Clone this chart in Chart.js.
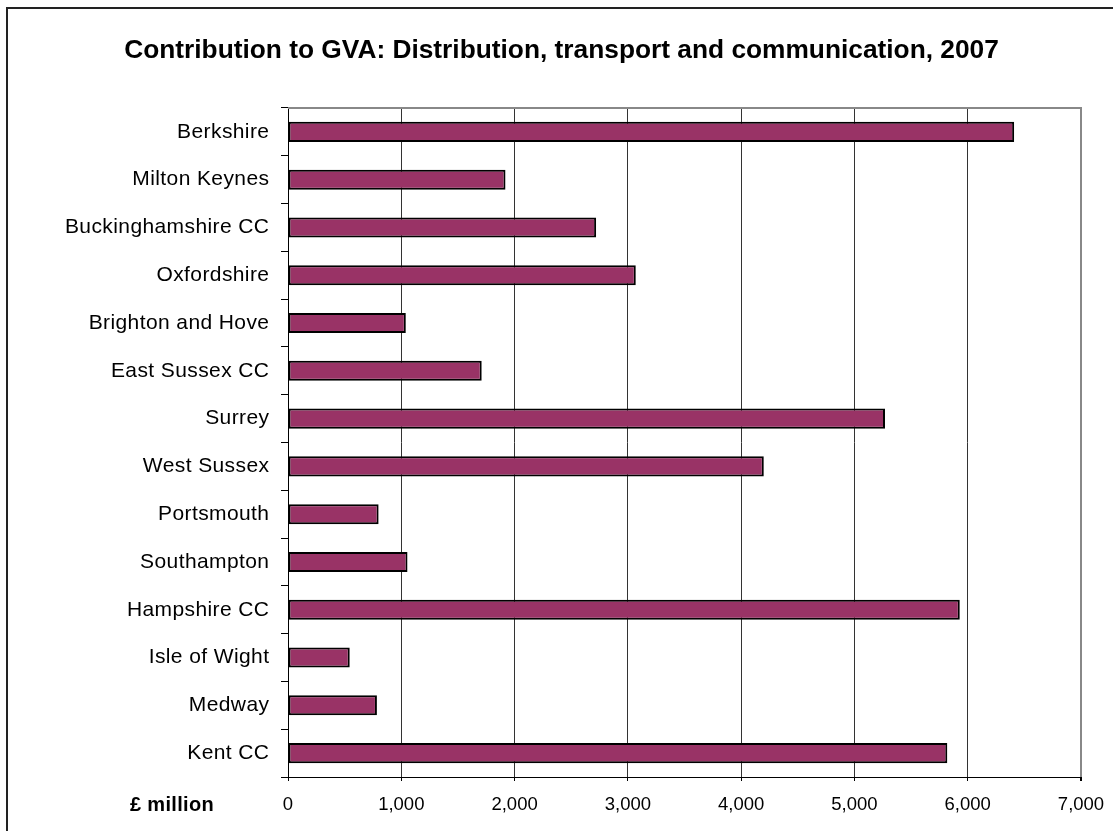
<!DOCTYPE html>
<html>
<head>
<meta charset="utf-8">
<title>Contribution to GVA: Distribution, transport and communication, 2007</title>
<script src="https://cdn.jsdelivr.net/npm/chart.js@4/dist/chart.umd.min.js"></script>
<style>
  html, body { margin: 0; padding: 0; background: #ffffff; }
  #wrap { position: relative; width: 1113px; height: 831px; }
</style>
</head>
<body>
<div id="wrap"><canvas id="gva" width="1113" height="831"></canvas></div>
<script>
// Areas of the South East, top to bottom
const areas = [
  'Berkshire', 'Milton Keynes', 'Buckinghamshire CC', 'Oxfordshire',
  'Brighton and Hove', 'East Sussex CC', 'Surrey', 'West Sussex',
  'Portsmouth', 'Southampton', 'Hampshire CC', 'Isle of Wight',
  'Medway', 'Kent CC'
];

// Gross value added, £ million
const gvaValues = [
  6410, 1920, 2720, 3070,
  1040, 1710, 5270, 4200,
  800, 1055, 5930, 545,
  785, 5820
];

// Horizontal axis range and step
const axisMin = 0;
const axisMax = 7000;
const axisStep = 1000;

const chartTitle = 'Contribution to GVA: Distribution, transport and communication, 2007';
const unitLabel = '£ million';

const FONT = '"Liberation Sans", Arial, Helvetica, sans-serif';

// Frame, title, category labels and unit label drawn around the plot
const framePlugin = {
  id: 'frame',
  beforeDraw(chart) {
    const ctx = chart.ctx;
    ctx.save();
    ctx.fillStyle = '#ffffff';
    ctx.fillRect(0, 0, chart.width, chart.height);
    ctx.strokeStyle = '#222222';
    ctx.lineWidth = 2;
    ctx.beginPath();
    ctx.moveTo(7, chart.height + 5);
    ctx.lineTo(7, 8);
    ctx.lineTo(chart.width + 5, 8);
    ctx.stroke();
    ctx.restore();
  },
  afterDatasetsDraw(chart) {
    const { ctx, chartArea } = chart;
    ctx.save();
    ctx.strokeStyle = '#888888';
    ctx.lineWidth = 2;
    ctx.beginPath();
    ctx.moveTo(chartArea.left, chartArea.top);
    ctx.lineTo(chartArea.right, chartArea.top);
    ctx.lineTo(chartArea.right, chartArea.bottom);
    ctx.stroke();
    ctx.restore();
  },
  afterDraw(chart) {
    const ctx = chart.ctx;
    const xScale = chart.scales.x;
    const yScale = chart.scales.y;
    ctx.save();
    ctx.fillStyle = '#000000';

    // title
    ctx.font = 'bold 26.3px ' + FONT;
    ctx.textAlign = 'center';
    ctx.textBaseline = 'alphabetic';
    ctx.fillText(chartTitle, 561.5, 58);

    // category labels
    const spacing = 0.4;
    ctx.font = '21px ' + FONT;
    ctx.letterSpacing = spacing + 'px';
    ctx.textAlign = 'right';
    ctx.textBaseline = 'middle';
    const labelRight = yScale.right - 7 - 12 + spacing;
    areas.forEach((name, i) => {
      ctx.fillText(name, labelRight, yScale.getPixelForTick(i));
    });

    // unit label under the category axis
    ctx.font = 'bold 20px ' + FONT;
    ctx.letterSpacing = '0.3px';
    ctx.textAlign = 'center';
    ctx.fillText(unitLabel, 172, xScale.top + 4 + 13 + 11);
    ctx.restore();
  }
};

new Chart(document.getElementById('gva'), {
  type: 'bar',
  data: {
    labels: areas,
    datasets: [{
      label: unitLabel,
      data: gvaValues,
      backgroundColor: '#993366',
      borderColor: '#000000',
      borderWidth: 2,
      borderSkipped: false,
      categoryPercentage: 1.0,
      barPercentage: 0.42
    }]
  },
  options: {
    indexAxis: 'y',
    responsive: false,
    animation: false,
    devicePixelRatio: 1,
    layout: { padding: { left: 0, right: 32, top: 108, bottom: 0 } },
    plugins: {
      legend: { display: false },
      tooltip: { enabled: false },
      title: { display: false }
    },
    scales: {
      x: {
        type: 'linear',
        position: 'bottom',
        min: axisMin,
        max: axisMax,
        afterFit(scale) {
          scale.height = 54;
          scale.paddingLeft = 0;
          scale.paddingRight = 0;
        },
        ticks: {
          stepSize: axisStep,
          color: '#000000',
          padding: 13,
          font: { family: FONT, size: 18.5 },
          callback: (v) => Number(v).toLocaleString('en-GB')
        },
        grid: {
          color: (c) => (c.index === 7 ? '#888888' : '#333333'),
          lineWidth: (c) => (c.index === 7 ? 2 : 1),
          tickLength: 4,
          tickColor: '#000000'
        },
        border: { display: true, color: '#000000', width: 1 }
      },
      y: {
        type: 'category',
        position: 'left',
        afterFit(scale) { scale.width = 288; },
        ticks: { display: false },
        grid: {
          offset: true,
          drawOnChartArea: false,
          drawTicks: true,
          tickLength: 7,
          tickColor: '#000000'
        },
        border: { display: true, color: '#000000', width: 1 }
      }
    }
  },
  plugins: [framePlugin]
});
</script>
</body>
</html>
